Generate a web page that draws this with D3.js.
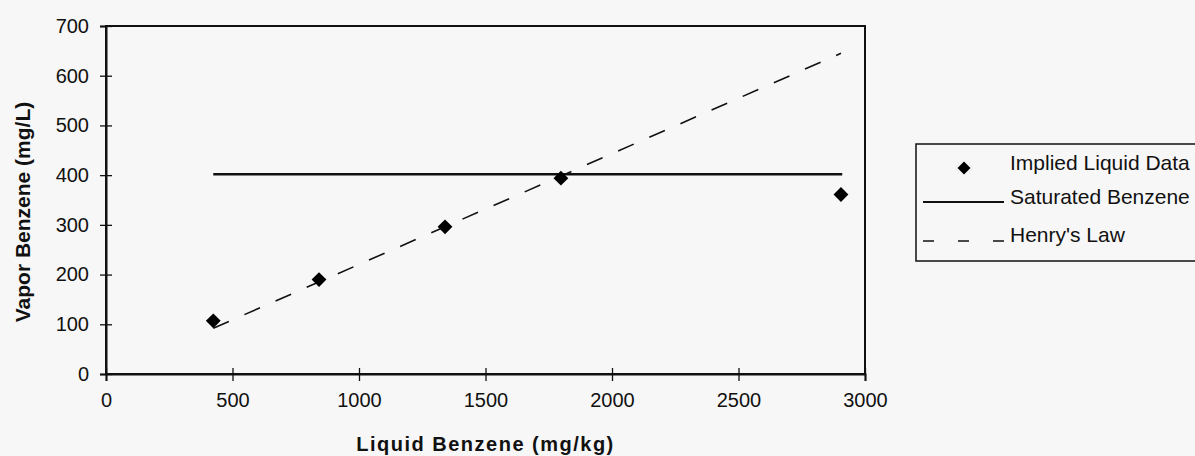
<!DOCTYPE html>
<html>
<head>
<meta charset="utf-8">
<script src="https://cdn.jsdelivr.net/npm/d3@7"></script>
<style>
  html, body { margin: 0; padding: 0; background: #f7f7f7; }
  svg { display: block; font-family: Arial, "Liberation Sans", sans-serif; }
</style>
</head>
<body>
<div id="chart"></div>
<script>
// data
const liquidBenzene = [424, 842, 1340, 1798, 2905];
const vaporBenzene = [107, 190, 296, 394, 361];
const saturatedX = [424, 2910];
const saturatedY = [402, 402];
const henryX = [424, 2905];
const henryY = [92, 645];
const xTicks = [0, 500, 1000, 1500, 2000, 2500, 3000];
const yTicks = [0, 100, 200, 300, 400, 500, 600, 700];
const legendLabels = ['Implied Liquid Data', 'Saturated Benzene', "Henry's Law"];

const width = 1195, height = 456;
const plot = { left: 106, right: 865, top: 26, bottom: 374 };

const svg = d3.select('#chart')
  .append('svg')
  .attr('width', width)
  .attr('height', height);

const x = d3.scaleLinear().domain([0, 3000]).range([plot.left, plot.right]);
const y = d3.scaleLinear().domain([0, 700]).range([plot.bottom, plot.top]);

// plot frame
svg.append('rect')
  .attr('x', plot.left)
  .attr('y', plot.top)
  .attr('width', plot.right - plot.left)
  .attr('height', plot.bottom - plot.top)
  .attr('fill', 'none')
  .attr('stroke', '#111')
  .attr('stroke-width', 2);

// axes
const xAxis = svg.append('g')
  .attr('transform', `translate(0,${plot.bottom})`)
  .call(d3.axisBottom(x).tickValues(xTicks).tickFormat(d3.format('d')).tickSize(7).tickPadding(12));

const yAxis = svg.append('g')
  .attr('transform', `translate(${plot.left},0)`)
  .call(d3.axisLeft(y).tickValues(yTicks).tickFormat(d3.format('d')).tickSize(6).tickPadding(11));

xAxis.selectAll('.tick line').attr('y1', -6).attr('stroke', '#111').attr('stroke-width', 1.3);
yAxis.selectAll('.tick line').attr('x1', 6).attr('stroke', '#111').attr('stroke-width', 1.3);
svg.selectAll('.domain').attr('stroke', '#111').attr('stroke-width', 2);
svg.selectAll('.tick text')
  .attr('font-family', 'Arial, "Liberation Sans", sans-serif')
  .attr('font-size', 20)
  .attr('fill', '#111');

// axis titles
svg.append('text')
  .attr('x', (plot.left + plot.right) / 2)
  .attr('y', 451)
  .attr('text-anchor', 'middle')
  .attr('font-size', 20)
  .attr('font-weight', 'bold')
  .attr('letter-spacing', 1.5)
  .attr('fill', '#111')
  .text('Liquid Benzene (mg/kg)');

svg.append('text')
  .attr('transform', 'translate(30,212) rotate(-90)')
  .attr('text-anchor', 'middle')
  .attr('font-size', 21)
  .attr('font-weight', 'bold')
  .attr('fill', '#111')
  .text('Vapor Benzene (mg/L)');

const line = d3.line()
  .x(d => x(d[0]))
  .y(d => y(d[1]));

// saturated benzene
svg.append('path')
  .datum(d3.zip(saturatedX, saturatedY))
  .attr('d', line)
  .attr('fill', 'none')
  .attr('stroke', '#111')
  .attr('stroke-width', 2.5);

// henry's law
svg.append('path')
  .datum(d3.zip(henryX, henryY))
  .attr('d', line)
  .attr('fill', 'none')
  .attr('stroke', '#111')
  .attr('stroke-width', 1.6)
  .attr('stroke-dasharray', '17,17');

// implied liquid data points
const diamond = d3.symbol().type(d3.symbolSquare).size(110);
svg.selectAll('.dot')
  .data(d3.zip(liquidBenzene, vaporBenzene))
  .enter()
  .append('path')
  .attr('class', 'dot')
  .attr('d', diamond)
  .attr('transform', d => `translate(${x(d[0])},${y(d[1])}) rotate(45)`)
  .attr('fill', '#000');

// legend
const legend = svg.append('g');
legend.append('rect')
  .attr('x', 916)
  .attr('y', 144)
  .attr('width', 300)
  .attr('height', 117)
  .attr('fill', 'none')
  .attr('stroke', '#111')
  .attr('stroke-width', 1.5);

const rowBaseline = [170, 204, 242];
legend.selectAll('.label')
  .data(legendLabels)
  .enter()
  .append('text')
  .attr('class', 'label')
  .attr('x', 1010)
  .attr('y', (d, i) => rowBaseline[i])
  .attr('font-size', 21)
  .attr('fill', '#111')
  .text(d => d);

legend.append('path')
  .attr('d', d3.symbol().type(d3.symbolSquare).size(85))
  .attr('transform', `translate(964,168) rotate(45)`)
  .attr('fill', '#000');

legend.append('line')
  .attr('x1', 923).attr('x2', 1004)
  .attr('y1', 202).attr('y2', 202)
  .attr('stroke', '#111')
  .attr('stroke-width', 2);

legend.append('line')
  .attr('x1', 923).attr('x2', 1006)
  .attr('y1', 241).attr('y2', 241)
  .attr('stroke', '#111')
  .attr('stroke-width', 1.6)
  .attr('stroke-dasharray', '11,24');
</script>
</body>
</html>
